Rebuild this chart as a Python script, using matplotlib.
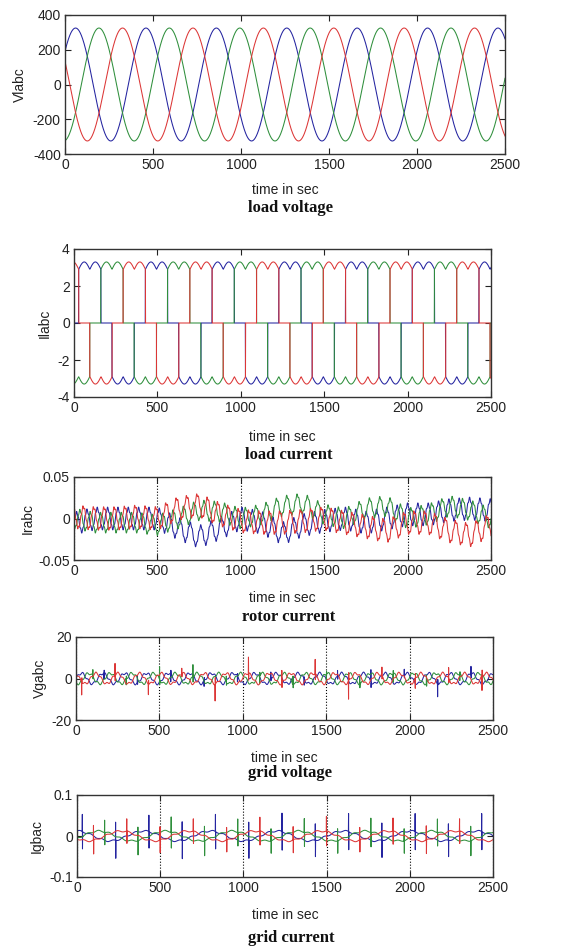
import numpy as np
import matplotlib.pyplot as plt

plt.rcParams['font.family'] = ['Liberation Sans', 'DejaVu Sans']

t = np.arange(0, 2501)
colors = ['#2424a0', '#2f8f3c', '#dc3636']   # phase a, b, c (blue, green, red)

# ---- load voltage ----
v_amp = 325
v_period = 400
v_peak = [60, 193, 327]          # time of first peak, blue / green / red

# ---- load current, 120 deg blocks ----
il_level = 2.9
il_ripple = 0.4
il_rise = [28, 161, 295]         # time each phase jumps to +level

# ---- rotor current: slow drift read every 125 s, plus ripple ----
ir_knots = list(range(0, 2501, 125))
ir_blue = [-0.006, 0.0, 0.0, 0.0, 0.0, -0.012, -0.022, -0.012, 0.0, -0.005, -0.018,
           -0.008, -0.003, 0.0, -0.005, 0.0, 0.005, 0.005, 0.01, 0.012, 0.01]
ir_green = [0.0, -0.005, -0.005, -0.005, -0.008, 0.0, 0.01, 0.008, 0.0, 0.005, 0.015,
            0.018, 0.005, 0.0, 0.012, 0.015, 0.0, 0.005, 0.015, 0.01, 0.0]
ir_red = [0.002, 0.0, 0.0, 0.002, 0.0, 0.012, 0.016, 0.005, -0.003, -0.005, -0.005,
          -0.003, 0.0, -0.005, -0.01, -0.015, -0.005, -0.005, -0.015, -0.02, -0.008]
ir_ripple_amp = [0.012, 0.011, 0.013]
ir_ripple_period = 62
ir_ripple_shift = [0, 21, 41]

# ---- grid voltage ----
vg_amp = 2.5
vg_period = 130
vg_spike_t = [34, 101, 168, 234, 301, 368, 434, 501, 568, 634, 701, 768, 834,
              901, 968, 1034, 1101, 1168, 1234, 1301, 1368, 1434, 1501, 1568,
              1634, 1701, 1768, 1834, 1901, 1968, 2034, 2101, 2168, 2234, 2301,
              2368, 2434]
vg_spike_h = [-6, 3, -3, 6, -3, 3, -5, 6, -4, 3, 6, -3, -8, 3, -3, 8, -4, 3, 6, 4,
              -3, 7, -4, 3, -9, 4, 6, 4, -4, 3, -5, 4, -6, 5, -3, 4, -7]
vg_spike_ph = [2, 1, 0] * 12 + [2]

# ---- grid current ----
ig_amp = 0.012
ig_period = 400
ig_peak = [0, 133, 267]
ig_spike_t = [32, 99, 166, 232, 299, 366, 432, 499, 566, 632, 699, 766, 832,
              899, 966, 1032, 1099, 1166, 1232, 1299, 1366, 1432, 1499, 1566,
              1632, 1699, 1766, 1832, 1899, 1966, 2032, 2099, 2166, 2232, 2299,
              2366, 2432]
ig_spike_h = [0.042, 0.035, 0.03, 0.044, 0.03, 0.034, 0.04, 0.032, 0.038, 0.045,
              0.03, 0.036, 0.042, 0.03, 0.033, 0.044, 0.034, 0.03, 0.045, 0.032,
              0.034, 0.04, 0.036, 0.03, 0.044, 0.03, 0.035, 0.042, 0.032, 0.03,
              0.044, 0.034, 0.033, 0.04, 0.03, 0.036, 0.044]
ig_spike_ph = [0, 2, 1] * 12 + [0]


def load_voltage(i):
    return v_amp * np.cos(2 * np.pi * (t - v_peak[i]) / v_period)


def load_current(i):
    th = (t - il_rise[i]) % v_period
    ripple = il_level + il_ripple * np.abs(np.sin(np.pi * th / (v_period / 6)))
    y = np.zeros(len(t))
    top = th < v_period / 3
    bot = (th >= v_period / 2) & (th < 5 * v_period / 6)
    y[top] = ripple[top]
    y[bot] = -ripple[bot]
    return y


def rotor_current(i):
    drift = np.interp(t, ir_knots, [ir_blue, ir_green, ir_red][i])
    a = ir_ripple_amp[i]
    ph = 2 * np.pi * (t - ir_ripple_shift[i]) / ir_ripple_period
    return drift + a * np.sin(ph) + 0.15 * a * np.sin(5 * ph + i)


def grid_voltage(i):
    y = vg_amp * np.sin(2 * np.pi * t / vg_period - 2 * np.pi * i / 3)
    y += 0.6 * np.sin(2 * np.pi * t / 33 + 2 * i)
    for tk, h, p in zip(vg_spike_t, vg_spike_h, vg_spike_ph):
        if p == i:
            y[tk] += h
            y[tk + 1] -= 0.4 * h
    return y


def grid_current(i):
    y = ig_amp * np.cos(2 * np.pi * (t - ig_peak[i]) / ig_period)
    y += 0.002 * np.sin(2 * np.pi * t / (ig_period / 6) + 2 * i)
    for tk, h, p in zip(ig_spike_t, ig_spike_h, ig_spike_ph):
        if p == i:
            y[tk] += h
            y[tk + 1] -= h
    return y


fig = plt.figure(figsize=(5.69, 9.5), dpi=100)
W, H = 569, 950


def box(l, r, top, bot):
    return [l / W, 1 - bot / H, (r - l) / W, (bot - top) / H]


panels = [
    # func, box px, ylim, yticks, yticklabels, ylabel, ylabel x, xlabel y, title, title y, grid
    (load_voltage, (65, 505, 15, 154), (-400, 400), [-400, -200, 0, 200, 400],
     ['-400', '-200', '0', '200', '400'], 'Vlabc', 20, 190, 'load voltage', 208, False),
    (load_current, (74, 491, 249, 397), (-4, 4), [-4, -2, 0, 2, 4],
     ['-4', '-2', '0', '2', '4'], 'Ilabc', 45, 437, 'load current', 455, False),
    (rotor_current, (74, 491, 477, 560), (-0.05, 0.05), [-0.05, 0, 0.05],
     ['-0.05', '0', '0.05'], 'Irabc', 28, 598, 'rotor current', 617, True),
    (grid_voltage, (76, 493, 637, 720), (-20, 20), [-20, 0, 20],
     ['-20', '0', '20'], 'Vgabc', 40, 758, 'grid voltage', 773, True),
    (grid_current, (77, 493, 795, 877), (-0.1, 0.1), [-0.1, 0, 0.1],
     ['-0.1', '0', '0.1'], 'Igbac', 37, 915, 'grid current', 938, True),
]

for func, bx, ylim, yt, ytl, ylab, ylx, xly, title, tty, grid in panels:
    ax = fig.add_axes(box(*bx))
    for i in range(3):
        ax.plot(t, func(i), color=colors[i], linewidth=0.75)
    ax.set_xlim(0, 2500)
    ax.set_ylim(*ylim)
    ax.set_xticks([0, 500, 1000, 1500, 2000, 2500])
    ax.set_yticks(yt)
    ax.set_yticklabels(ytl)
    ax.tick_params(direction='in', top=True, right=True, length=4, width=0.8,
                   labelsize=10, pad=3, colors='#222222')
    for s in ax.spines.values():
        s.set_color('#333333')
        s.set_linewidth(1.0)
    if grid:
        ax.grid(axis='x', linestyle=':', color='black', linewidth=0.8)
    cx = (bx[0] + bx[1]) / 2
    cy = (bx[2] + bx[3]) / 2
    fig.text(ylx / W, 1 - cy / H, ylab, rotation=90, ha='center', va='center',
             fontsize=10, color='#222222')
    fig.text(cx / W, 1 - xly / H, 'time in sec', ha='center', va='center',
             fontsize=10, color='#222222')
    fig.text((cx + 6) / W, 1 - tty / H, title, ha='center', va='center',
             fontsize=12, fontweight='bold', family='Liberation Serif', color='#111111')

fig.savefig('out.png', dpi=100)
